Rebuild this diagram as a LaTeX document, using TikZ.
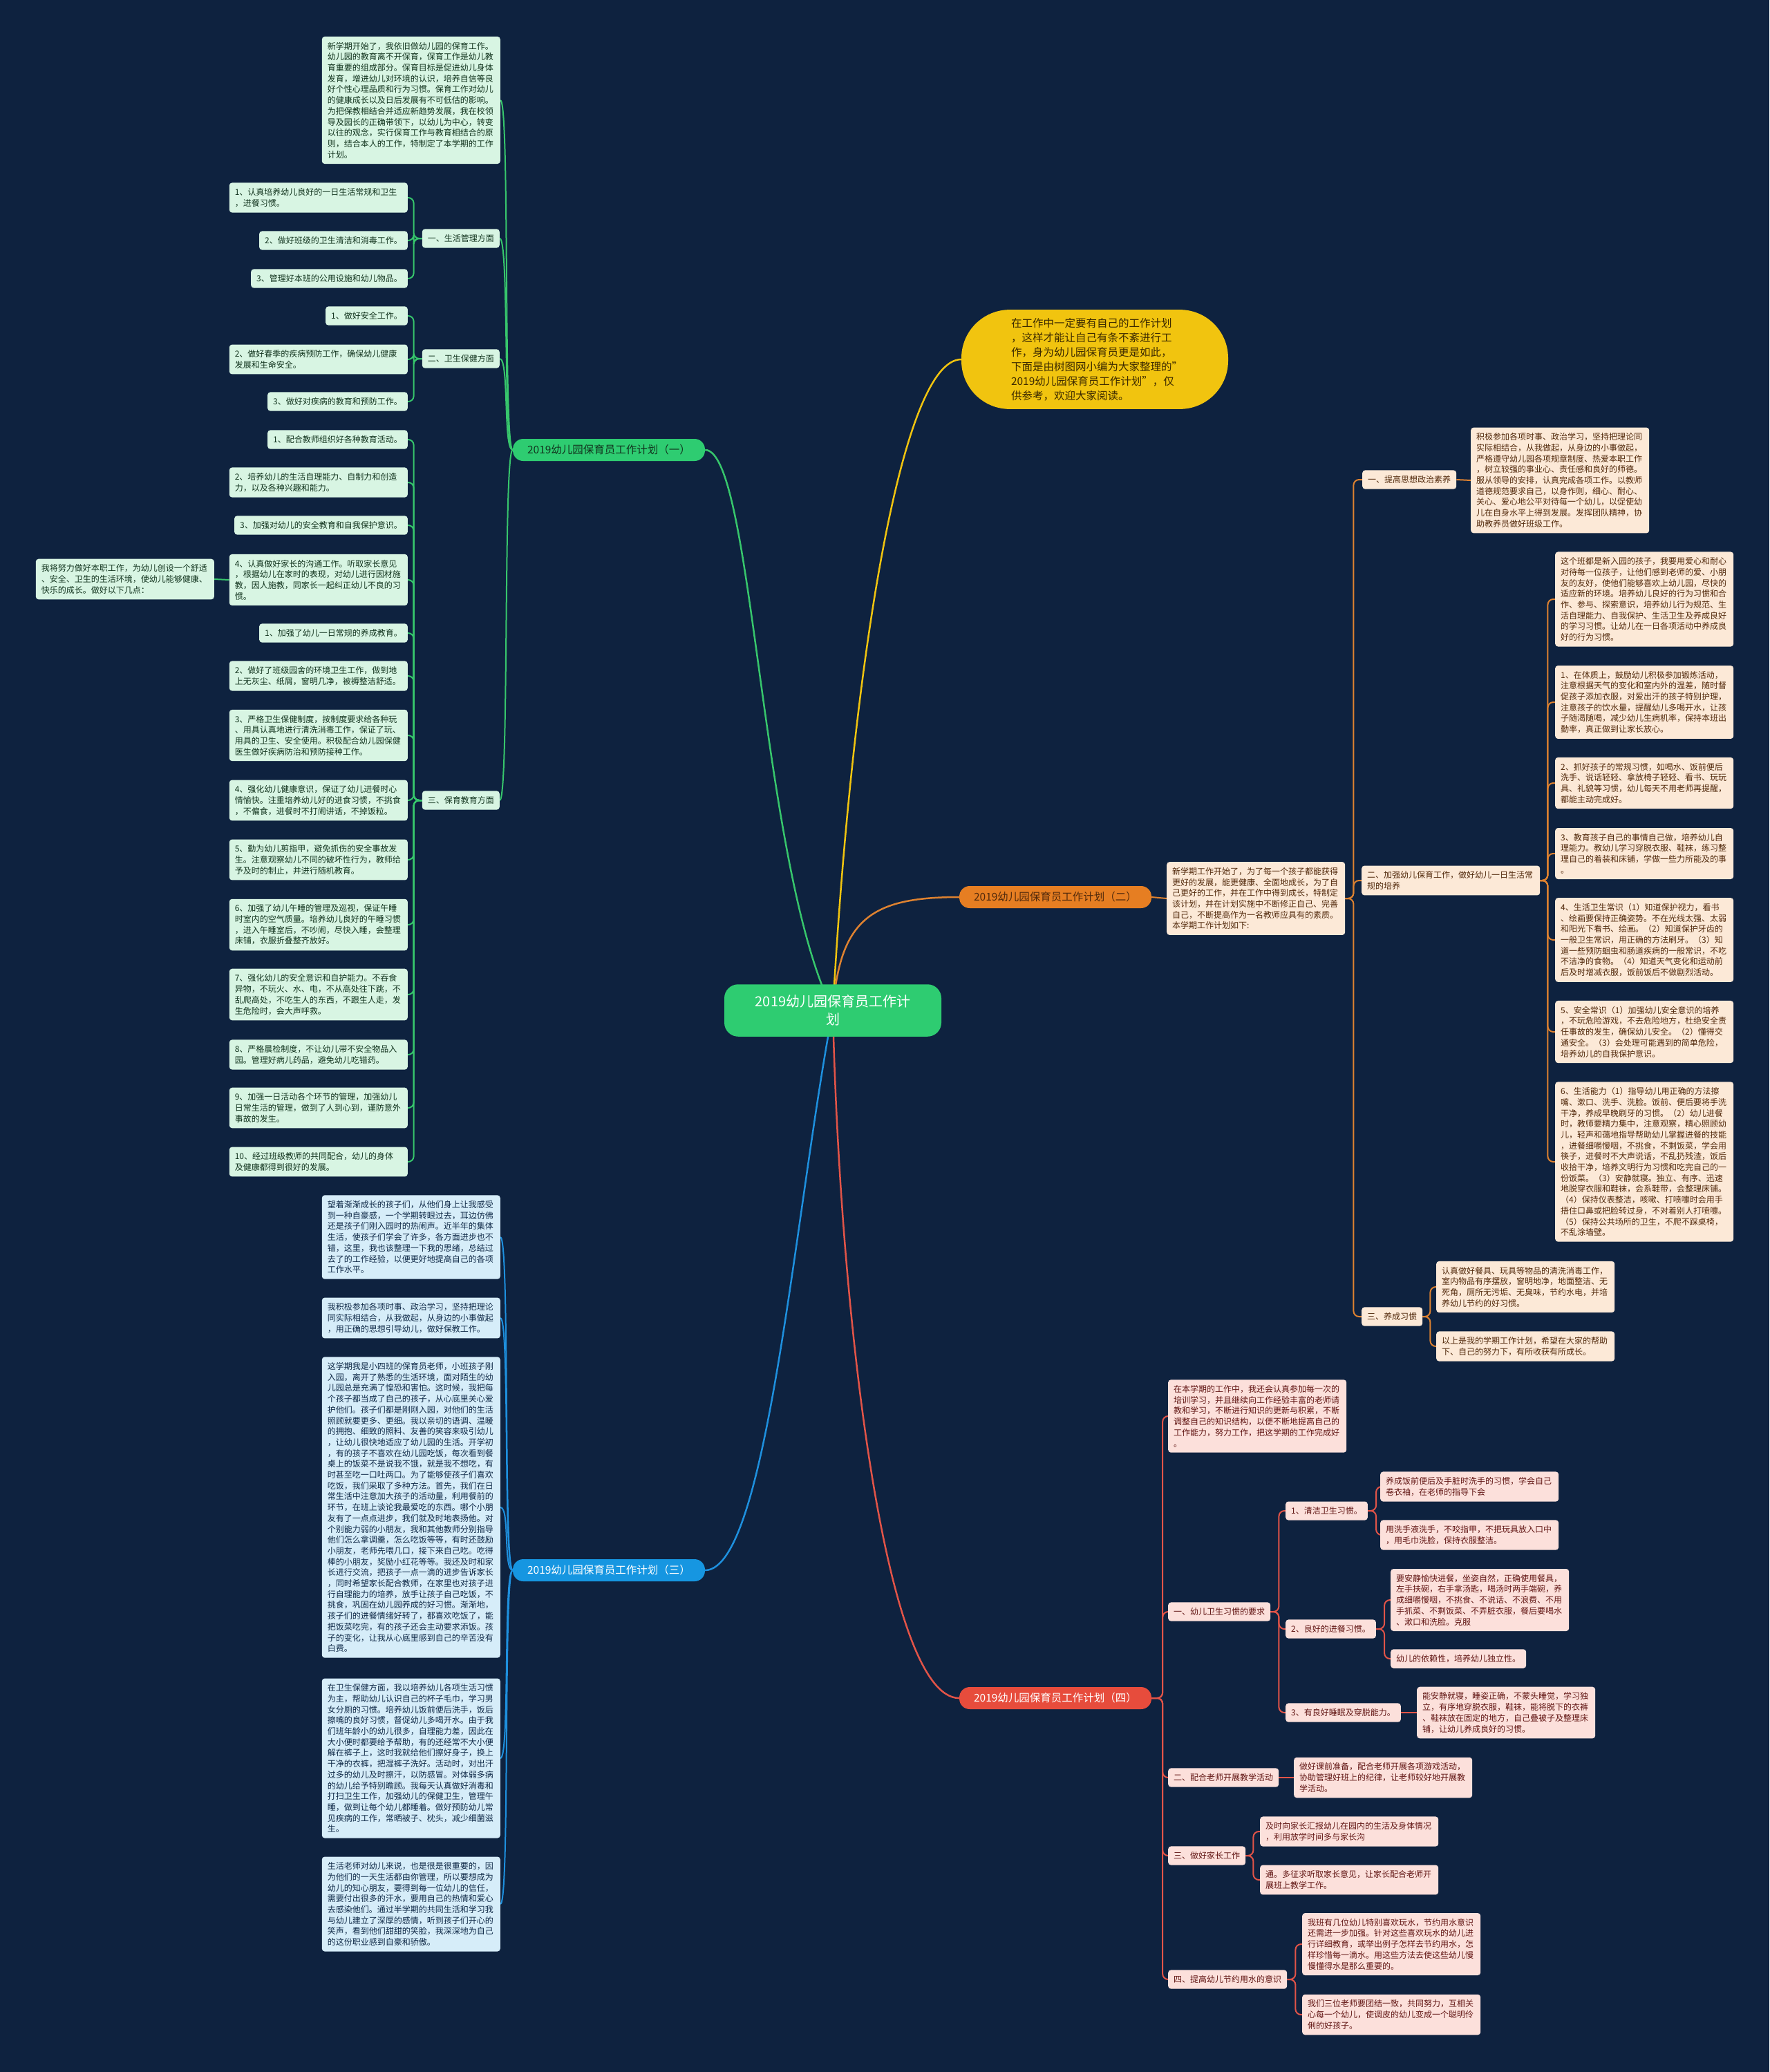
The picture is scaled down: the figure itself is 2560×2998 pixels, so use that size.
\documentclass[tikz,border=0pt]{standalone}
\usepackage{fontspec}
\setmainfont{Noto Sans CJK SC}
\usepackage{tikz}
\usetikzlibrary{backgrounds}

\definecolor{navy}{RGB}{14,34,63}
\definecolor{greenline}{RGB}{55,198,108}
\definecolor{greenfill}{RGB}{216,245,227}
\definecolor{greentext}{RGB}{18,52,30}
\definecolor{greennode}{RGB}{46,204,113}
\definecolor{orangeline}{RGB}{222,130,48}
\definecolor{orangefill}{RGB}{252,233,215}
\definecolor{orangetext}{RGB}{82,42,12}
\definecolor{orangenode}{RGB}{230,126,34}
\definecolor{blueline}{RGB}{30,144,222}
\definecolor{bluefill}{RGB}{214,237,249}
\definecolor{bluetext}{RGB}{16,42,72}
\definecolor{bluenode}{RGB}{22,150,225}
\definecolor{redline}{RGB}{226,84,72}
\definecolor{redfill}{RGB}{252,224,219}
\definecolor{redtext}{RGB}{98,22,20}
\definecolor{rednode}{RGB}{231,76,60}
\definecolor{yellownode}{RGB}{241,196,15}
\definecolor{yellowtext}{RGB}{60,42,0}

\begin{document}
\begin{tikzpicture}[x=1pt, y=-1pt,
			box/.style={
					rectangle,
					rounded corners=4pt,
					inner xsep=8pt,
					inner ysep=8pt,
					align=left,
					font=\fontsize{12}{15.7}\selectfont
				},
			wide/.style={text width=242pt},
			gbox/.style={box, fill=greenfill, text=greentext},
			obox/.style={box, fill=orangefill, text=orangetext},
			bbox/.style={box, fill=bluefill, text=bluetext},
			rbox/.style={box, fill=redfill, text=redtext},
			branch/.style={
					rectangle,
					rounded corners=15pt,
					minimum height=32pt,
					inner xsep=21pt,
					font=\fontsize{15.5}{18}\selectfont
				},
			gedge/.style={draw=greenline, line width=2pt},
			oedge/.style={draw=orangeline, line width=2pt},
			bedge/.style={draw=blueline, line width=2pt},
			redge/.style={draw=redline, line width=2pt},
			yedge/.style={draw=yellownode, line width=2.5pt}
		]
		\useasboundingbox (0,0) rectangle (2560,2998);
		% Place nodes
		\node [rectangle, rounded corners=20pt, fill=greennode, text=white, align=center, text width=262pt, inner xsep=26pt, inner ysep=15.5pt, font=\fontsize{20}{26}\selectfont] (root) at (1205,1462) {2019幼儿园保育员工作计\\划};
		\node [rectangle, rounded corners=70pt, fill=yellownode, text=yellowtext, align=left, text width=242pt, inner xsep=72pt, inner ysep=12pt, font=\fontsize{15.5}{21}\selectfont] (intro) at (1584,520) {在工作中一定要有自己的工作计划\\，这样才能让自己有条不紊进行工\\作，身为幼儿园保育员更是如此，\\下面是由树图网小编为大家整理的"\\2019幼儿园保育员工作计划"，仅\\供参考，欢迎大家阅读。};

		% branch one
		\node [branch, fill=greennode, text=greentext] (plan1) at (881,651) {2019幼儿园保育员工作计划（一）};
		\node [gbox, wide, anchor=east] (p1open) at (724,145) {新学期开始了，我依旧做幼儿园的保育工作。\\幼儿园的教育离不开保育，保育工作是幼儿教\\育重要的组成部分。保育目标是促进幼儿身体\\发育，增进幼儿对环境的认识，培养自信等良\\好个性心理品质和行为习惯。保育工作对幼儿\\的健康成长以及日后发展有不可低估的影响。\\为把保教相结合并适应新趋势发展，我在校领\\导及园长的正确带领下，以幼儿为中心，转变\\以往的观念，实行保育工作与教育相结合的原\\则，结合本人的工作，特制定了本学期的工作\\计划。};
		\node [gbox, anchor=east] (life) at (723,345) {一、生活管理方面};
		\node [gbox, wide, anchor=east] (lifea) at (590,286) {1、认真培养幼儿良好的一日生活常规和卫生\\，进餐习惯。};
		\node [gbox, anchor=east] (lifeb) at (590,348) {2、做好班级的卫生清洁和消毒工作。};
		\node [gbox, anchor=east] (lifec) at (590,403) {3、管理好本班的公用设施和幼儿物品。};
		\node [gbox, anchor=east] (health) at (723,519) {二、卫生保健方面};
		\node [gbox, anchor=east] (healtha) at (590,457) {1、做好安全工作。};
		\node [gbox, wide, anchor=east] (healthb) at (590,520) {2、做好春季的疾病预防工作，确保幼儿健康\\发展和生命安全。};
		\node [gbox, anchor=east] (healthc) at (590,581) {3、做好对疾病的教育和预防工作。};
		\node [gbox, anchor=east] (care) at (723,1158) {三、保育教育方面};
		\node [gbox, anchor=east] (care1) at (590,636) {1、配合教师组织好各种教育活动。};
		\node [gbox, wide, anchor=east] (care2) at (590,698) {2、培养幼儿的生活自理能力、自制力和创造\\力，以及各种兴趣和能力。};
		\node [gbox, anchor=east] (care3) at (590,760) {3、加强对幼儿的安全教育和自我保护意识。};
		\node [gbox, wide, anchor=east] (care4) at (590,839) {4、认真做好家长的沟通工作。听取家长意见\\，根据幼儿在家时的表现，对幼儿进行因材施\\教，因人施教，同家长一起纠正幼儿不良的习\\惯。};
		\node [gbox, wide, anchor=east] (careaim) at (310,838) {我将努力做好本职工作，为幼儿创设一个舒适\\、安全、卫生的生活环境，使幼儿能够健康、\\快乐的成长。做好以下几点：};
		\node [gbox, anchor=east] (care5) at (590,916) {1、加强了幼儿一日常规的养成教育。};
		\node [gbox, wide, anchor=east] (care6) at (590,978) {2、做好了班级园舍的环境卫生工作，做到地\\上无灰尘、纸屑，窗明几净，被褥整洁舒适。};
		\node [gbox, wide, anchor=east] (care7) at (590,1064) {3、严格卫生保健制度，按制度要求给各种玩\\、用具认真地进行清洗消毒工作，保证了玩、\\用具的卫生、安全使用。积极配合幼儿园保健\\医生做好疾病防治和预防接种工作。};
		\node [gbox, wide, anchor=east] (care8) at (590,1158) {4、强化幼儿健康意识，保证了幼儿进餐时心\\情愉快。注重培养幼儿好的进食习惯，不挑食\\，不偏食，进餐时不打闹讲话，不掉饭粒。};
		\node [gbox, wide, anchor=east] (care9) at (590,1244) {5、勤为幼儿剪指甲，避免抓伤的安全事故发\\生。注意观察幼儿不同的破坏性行为，教师给\\予及时的制止，并进行随机教育。};
		\node [gbox, wide, anchor=east] (care10) at (590,1338) {6、加强了幼儿午睡的管理及巡视，保证午睡\\时室内的空气质量。培养幼儿良好的午睡习惯\\，进入午睡室后，不吵闹，尽快入睡，会整理\\床铺，衣服折叠整齐放好。};
		\node [gbox, wide, anchor=east] (care11) at (590,1439) {7、强化幼儿的安全意识和自护能力。不吞食\\异物，不玩火、水、电，不从高处往下跳，不\\乱爬高处，不吃生人的东西，不跟生人走，发\\生危险时，会大声呼救。};
		\node [gbox, wide, anchor=east] (care12) at (590,1526) {8、严格晨检制度，不让幼儿带不安全物品入\\园。管理好病儿药品，避免幼儿吃错药。};
		\node [gbox, wide, anchor=east] (care13) at (590,1603) {9、加强一日活动各个环节的管理，加强幼儿\\日常生活的管理，做到了人到心到，谨防意外\\事故的发生。};
		\node [gbox, wide, anchor=east] (care14) at (590,1681) {10、经过班级教师的共同配合，幼儿的身体\\及健康都得到很好的发展。};

		% branch two
		\node [branch, fill=orangenode, text=orangetext] (plan2) at (1527,1298) {2019幼儿园保育员工作计划（二）};
		\node [obox, wide, anchor=west] (p2open) at (1688,1300) {新学期工作开始了，为了每一个孩子都能获得\\更好的发展，能更健康、全面地成长，为了自\\己更好的工作，并在工作中得到成长，特制定\\该计划，并在计划实施中不断修正自己、完善\\自己，不断提高作为一名教师应具有的素质。\\本学期工作计划如下:};
		\node [obox, anchor=west] (moral) at (1971,694) {一、提高思想政治素养};
		\node [obox, wide, anchor=west] (morala) at (2128,695) {积极参加各项时事、政治学习，坚持把理论同\\实际相结合，从我做起，从身边的小事做起，\\严格遵守幼儿园各项规章制度、热爱本职工作\\，树立较强的事业心、责任感和良好的师德。\\服从领导的安排，认真完成各项工作。以教师\\道德规范要求自己，以身作则，细心、耐心、\\关心、爱心地公平对待每一个幼儿，以促使幼\\儿在自身水平上得到发展。发挥团队精神，协\\助教养员做好班级工作。};
		\node [obox, wide, anchor=west] (routine) at (1970,1274) {二、加强幼儿保育工作，做好幼儿一日生活常\\规的培养};
		\node [obox, wide, anchor=west] (routine1) at (2250,867) {这个班都是新入园的孩子，我要用爱心和耐心\\对待每一位孩子，让他们感到老师的爱、小朋\\友的友好，使他们能够喜欢上幼儿园，尽快的\\适应新的环境。培养幼儿良好的行为习惯和合\\作、参与、探索意识，培养幼儿行为规范、生\\活自理能力、自我保护、生活卫生及养成良好\\的学习习惯。让幼儿在一日各项活动中养成良\\好的行为习惯。};
		\node [obox, wide, anchor=west] (routine2) at (2250,1016) {1、在体质上，鼓励幼儿积极参加锻炼活动，\\注意根据天气的变化和室内外的温差，随时督\\促孩子添加衣服，对爱出汗的孩子特别护理，\\注意孩子的饮水量，提醒幼儿多喝开水，让孩\\子随渴随喝，减少幼儿生病机率，保持本班出\\勤率，真正做到让家长放心。};
		\node [obox, wide, anchor=west] (routine3) at (2250,1133) {2、抓好孩子的常规习惯，如喝水、饭前便后\\洗手、说话轻轻、拿放椅子轻轻、看书、玩玩\\具、礼貌等习惯，幼儿每天不用老师再提醒，\\都能主动完成好。};
		\node [obox, wide, anchor=west] (routine4) at (2250,1235) {3、教育孩子自己的事情自己做，培养幼儿自\\理能力。教幼儿学习穿脱衣服、鞋袜，练习整\\理自己的着装和床铺，学做一些力所能及的事\\。};
		\node [obox, wide, anchor=west] (routine5) at (2250,1360) {4、生活卫生常识（1）知道保护视力，看书\\、绘画要保持正确姿势。不在光线太强、太弱\\和阳光下看书、绘画。（2）知道保护牙齿的\\一般卫生常识，用正确的方法刷牙。（3）知\\道一些预防蛔虫和肠道疾病的一般常识，不吃\\不洁净的食物。（4）知道天气变化和运动前\\后及时增减衣服，饭前饭后不做剧烈活动。};
		\node [obox, wide, anchor=west] (routine6) at (2250,1493) {5、安全常识（1）加强幼儿安全意识的培养\\，不玩危险游戏，不去危险地方，杜绝安全责\\任事故的发生，确保幼儿安全。（2）懂得交\\通安全。（3）会处理可能遇到的简单危险，\\培养幼儿的自我保护意识。};
		\node [obox, wide, anchor=west] (routine7) at (2250,1681) {6、生活能力（1）指导幼儿用正确的方法擦\\嘴、漱口、洗手、洗脸。饭前、便后要将手洗\\干净，养成早晚刷牙的习惯。（2）幼儿进餐\\时，教师要精力集中，注意观察，精心照顾幼\\儿，轻声和蔼地指导帮助幼儿掌握进餐的技能\\，进餐细嚼慢咽，不挑食，不剩饭菜，学会用\\筷子，进餐时不大声说话，不乱扔残渣，饭后\\收拾干净，培养文明行为习惯和吃完自己的一\\份饭菜。（3）安静就寝。独立、有序、迅速\\地脱穿衣服和鞋袜，会系鞋带，会整理床铺。\\（4）保持仪表整洁，咳嗽、打喷嚏时会用手\\捂住口鼻或把脸转过身，不对着别人打喷嚏。\\（5）保持公共场所的卫生，不爬不踩桌椅，\\不乱涂墙壁。};
		\node [obox, anchor=west] (habit) at (1970,1905) {三、养成习惯};
		\node [obox, wide, anchor=west] (habita) at (2078,1862) {认真做好餐具、玩具等物品的清洗消毒工作，\\室内物品有序摆放，窗明地净，地面整洁、无\\死角，厕所无污垢、无臭味，节约水电，并培\\养幼儿节约的好习惯。};
		\node [obox, wide, anchor=west] (habitb) at (2078,1948) {以上是我的学期工作计划，希望在大家的帮助\\下、自己的努力下，有所收获有所成长。};

		% branch three
		\node [branch, fill=bluenode, text=white] (plan3) at (881,2272) {2019幼儿园保育员工作计划（三）};
		\node [bbox, wide, anchor=east] (sum1) at (724,1790) {望着渐渐成长的孩子们，从他们身上让我感受\\到一种自豪感，一个学期转眼过去，耳边仿佛\\还是孩子们刚入园时的热闹声。近半年的集体\\生活，使孩子们学会了许多，各方面进步也不\\错，这里，我也该整理一下我的思绪，总结过\\去了的工作经验，以便更好地提高自己的各项\\工作水平。};
		\node [bbox, wide, anchor=east] (sum2) at (724,1907) {我积极参加各项时事、政治学习，坚持把理论\\同实际相结合，从我做起，从身边的小事做起\\，用正确的思想引导幼儿，做好保教工作。};
		\node [bbox, wide, anchor=east] (sum3) at (724,2181) {这学期我是小四班的保育员老师，小班孩子刚\\入园，离开了熟悉的生活环境，面对陌生的幼\\儿园总是充满了惶恐和害怕。这时候，我把每\\个孩子都当成了自己的孩子，从心底里关心爱\\护他们。孩子们都是刚刚入园，对他们的生活\\照顾就要更多、更细。我以亲切的语调、温暖\\的拥抱、细致的照料、友善的笑容来吸引幼儿\\，让幼儿很快地适应了幼儿园的生活。开学初\\，有的孩子不喜欢在幼儿园吃饭，每次看到餐\\桌上的饭菜不是说我不饿，就是我不想吃，有\\时甚至吃一口吐两口。为了能够使孩子们喜欢\\吃饭，我们采取了多种方法。首先，我们在日\\常生活中注意加大孩子的活动量，利用餐前的\\环节，在班上谈论我最爱吃的东西。哪个小朋\\友有了一点点进步，我们就及时地表扬他。对\\个别能力弱的小朋友，我和其他教师分别指导\\他们怎么拿调羹，怎么吃饭等等，有时还鼓励\\小朋友，老师先喂几口，接下来自己吃。吃得\\棒的小朋友，奖励小红花等等。我还及时和家\\长进行交流，把孩子一点一滴的进步告诉家长\\，同时希望家长配合教师，在家里也对孩子进\\行自理能力的培养，放手让孩子自己吃饭，不\\挑食，巩固在幼儿园养成的好习惯。渐渐地，\\孩子们的进餐情绪好转了，都喜欢吃饭了，能\\把饭菜吃完，有的孩子还会主动要求添饭。孩\\子的变化，让我从心底里感到自己的辛苦没有\\白费。};
		\node [bbox, wide, anchor=east] (sum4) at (724,2544) {在卫生保健方面，我以培养幼儿各项生活习惯\\为主，帮助幼儿认识自己的杯子毛巾，学习男\\女分厕的习惯。培养幼儿饭前便后洗手，饭后\\擦嘴的良好习惯，督促幼儿多喝开水。由于我\\们班年龄小的幼儿很多，自理能力差，因此在\\大小便时都要给予帮助，有的还经常不大小便\\解在裤子上，这时我就给他们擦好身子，换上\\干净的衣裤，把湿裤子洗好。活动时，对出汗\\过多的幼儿及时擦汗，以防感冒。对体弱多病\\的幼儿给予特别瞻顾。我每天认真做好消毒和\\打扫卫生工作，加强幼儿的保健卫生，管理午\\睡，做到让每个幼儿都睡着。做好预防幼儿常\\见疾病的工作，常晒被子、枕头，减少细菌滋\\生。};
		\node [bbox, wide, anchor=east] (sum5) at (724,2755) {生活老师对幼儿来说，也是很是很重要的，因\\为他们的一天生活都由你管理，所以要想成为\\幼儿的知心朋友，要得到每一位幼儿的信任，\\需要付出很多的汗水，要用自己的热情和爱心\\去感染他们。通过半学期的共同生活和学习我\\与幼儿建立了深厚的感情，听到孩子们开心的\\笑声，看到他们甜甜的笑脸，我深深地为自己\\的这份职业感到自豪和骄傲。};

		% branch four
		\node [branch, fill=rednode, text=white] (plan4) at (1527,2457) {2019幼儿园保育员工作计划（四）};
		\node [rbox, wide, anchor=west] (study) at (1690,2049) {在本学期的工作中，我还会认真参加每一次的\\培训学习，并且继续向工作经验丰富的老师请\\教和学习，不断进行知识的更新与积累，不断\\调整自己的知识结构，以便不断地提高自己的\\工作能力，努力工作，把这学期的工作完成好\\。};
		\node [rbox, anchor=west] (hyg) at (1690,2332) {一、幼儿卫生习惯的要求};
		\node [rbox, anchor=west] (clean) at (1860,2186) {1、清洁卫生习惯。};
		\node [rbox, wide, anchor=west] (cleana) at (1997,2151) {养成饭前便后及手脏时洗手的习惯，学会自己\\卷衣袖，在老师的指导下会};
		\node [rbox, wide, anchor=west] (cleanb) at (1997,2221) {用洗手液洗手，不咬指甲，不把玩具放入口中\\，用毛巾洗脸，保持衣服整洁。};
		\node [rbox, anchor=west] (meal) at (1860,2357) {2、良好的进餐习惯。};
		\node [rbox, wide, anchor=west] (meala) at (2012,2315) {要安静愉快进餐，坐姿自然，正确使用餐具，\\左手扶碗，右手拿汤匙，喝汤时两手端碗，养\\成细嚼慢咽，不挑食、不说话、不浪费、不用\\手抓菜、不剩饭菜、不弄脏衣服，餐后要喝水\\、漱口和洗脸。克服};
		\node [rbox, anchor=west] (mealb) at (2012,2400) {幼儿的依赖性，培养幼儿独立性。};
		\node [rbox, anchor=west] (sleep) at (1860,2478) {3、有良好睡眠及穿脱能力。};
		\node [rbox, wide, anchor=west] (sleepa) at (2050,2478) {能安静就寝，睡姿正确，不蒙头睡觉，学习独\\立，有序地穿脱衣服，鞋袜，能将脱下的衣裤\\、鞋袜放在固定的地方，自己叠被子及整理床\\铺，让幼儿养成良好的习惯。};
		\node [rbox, anchor=west] (teach) at (1690,2572) {二、配合老师开展教学活动};
		\node [rbox, wide, anchor=west] (teacha) at (1872,2572) {做好课前准备，配合老师开展各项游戏活动，\\协助管理好班上的纪律，让老师较好地开展教\\学活动。};
		\node [rbox, anchor=west] (parent) at (1690,2685) {三、做好家长工作};
		\node [rbox, wide, anchor=west] (parenta) at (1823,2650) {及时向家长汇报幼儿在园内的生活及身体情况\\，利用放学时间多与家长沟};
		\node [rbox, wide, anchor=west] (parentb) at (1823,2720) {通。多征求听取家长意见，让家长配合老师开\\展班上教学工作。};
		\node [rbox, anchor=west] (water) at (1690,2864) {四、提高幼儿节约用水的意识};
		\node [rbox, wide, anchor=west] (watera) at (1884,2813) {我班有几位幼儿特别喜欢玩水，节约用水意识\\还需进一步加强。针对这些喜欢玩水的幼儿进\\行详细教育，或举出例子怎样去节约用水，怎\\样珍惜每一滴水。用这些方法去使这些幼儿慢\\慢懂得水是那么重要的。};
		\node [rbox, wide, anchor=west] (waterb) at (1884,2915) {我们三位老师要团结一致，共同努力，互相关\\心每一个幼儿，使调皮的幼儿变成一个聪明伶\\俐的好孩子。};

		% Draw edges
		\begin{scope}[on background layer]
			\fill [navy] (0,0) rectangle (2560,2998);
			\draw [gedge, line width=2.5pt] (root.center) .. controls (1100,1250) and (1090,651) .. (plan1.east);
			\draw [yedge] (root.center) .. controls (1230,1000) and (1300,520) .. (intro.west);
			\draw [oedge, line width=2.5pt] (root.center) .. controls (1215,1330) and (1260,1298) .. (plan2.west);
			\draw [bedge, line width=2.5pt] (root.center) .. controls (1150,1750) and (1110,2272) .. (plan3.east);
			\draw [redge, line width=2.5pt] (root.center) .. controls (1215,1900) and (1280,2457) .. (plan4.west);

			\draw [gedge] (plan1.west) .. controls +(-14,0) and +(14,0) .. (p1open.east);
			\draw [gedge] (plan1.west) .. controls +(-14,0) and +(14,0) .. (life.east);
			\draw [gedge] (plan1.west) .. controls +(-14,0) and +(14,0) .. (health.east);
			\draw [gedge] (plan1.west) .. controls +(-14,0) and +(14,0) .. (care.east);
			\draw [gedge, rounded corners=8pt] (life.west) -- ++(-12,0) |- (lifea.east);
			\draw [gedge, rounded corners=8pt] (life.west) -- ++(-12,0) |- (lifeb.east);
			\draw [gedge, rounded corners=8pt] (life.west) -- ++(-12,0) |- (lifec.east);
			\draw [gedge, rounded corners=8pt] (health.west) -- ++(-12,0) |- (healtha.east);
			\draw [gedge, rounded corners=8pt] (health.west) -- ++(-12,0) |- (healthb.east);
			\draw [gedge, rounded corners=8pt] (health.west) -- ++(-12,0) |- (healthc.east);
			\draw [gedge, rounded corners=8pt] (care.west) -- ++(-12,0) |- (care1.east);
			\draw [gedge, rounded corners=8pt] (care.west) -- ++(-12,0) |- (care2.east);
			\draw [gedge, rounded corners=8pt] (care.west) -- ++(-12,0) |- (care3.east);
			\draw [gedge, rounded corners=8pt] (care.west) -- ++(-12,0) |- (care4.east);
			\draw [gedge, rounded corners=8pt] (care.west) -- ++(-12,0) |- (care5.east);
			\draw [gedge, rounded corners=8pt] (care.west) -- ++(-12,0) |- (care6.east);
			\draw [gedge, rounded corners=8pt] (care.west) -- ++(-12,0) |- (care7.east);
			\draw [gedge, rounded corners=8pt] (care.west) -- ++(-12,0) |- (care8.east);
			\draw [gedge, rounded corners=8pt] (care.west) -- ++(-12,0) |- (care9.east);
			\draw [gedge, rounded corners=8pt] (care.west) -- ++(-12,0) |- (care10.east);
			\draw [gedge, rounded corners=8pt] (care.west) -- ++(-12,0) |- (care11.east);
			\draw [gedge, rounded corners=8pt] (care.west) -- ++(-12,0) |- (care12.east);
			\draw [gedge, rounded corners=8pt] (care.west) -- ++(-12,0) |- (care13.east);
			\draw [gedge, rounded corners=8pt] (care.west) -- ++(-12,0) |- (care14.east);
			\draw [gedge] (care4.west) -- (careaim.east);

			\draw [oedge] (plan2.east) -- (p2open.west);
			\draw [oedge, rounded corners=8pt] (p2open.east) -- ++(12,0) |- (moral.west);
			\draw [oedge, rounded corners=8pt] (p2open.east) -- ++(12,0) |- (routine.west);
			\draw [oedge, rounded corners=8pt] (p2open.east) -- ++(12,0) |- (habit.west);
			\draw [oedge] (moral.east) -- (morala.west);
			\draw [oedge, rounded corners=8pt] (routine.east) -- ++(11,0) |- (routine1.west);
			\draw [oedge, rounded corners=8pt] (routine.east) -- ++(11,0) |- (routine2.west);
			\draw [oedge, rounded corners=8pt] (routine.east) -- ++(11,0) |- (routine3.west);
			\draw [oedge, rounded corners=8pt] (routine.east) -- ++(11,0) |- (routine4.west);
			\draw [oedge, rounded corners=8pt] (routine.east) -- ++(11,0) |- (routine5.west);
			\draw [oedge, rounded corners=8pt] (routine.east) -- ++(11,0) |- (routine6.west);
			\draw [oedge, rounded corners=8pt] (routine.east) -- ++(11,0) |- (routine7.west);
			\draw [oedge, rounded corners=8pt] (habit.east) -- ++(11,0) |- (habita.west);
			\draw [oedge, rounded corners=8pt] (habit.east) -- ++(11,0) |- (habitb.west);

			\draw [bedge] (plan3.west) .. controls +(-14,0) and +(14,0) .. (sum1.east);
			\draw [bedge] (plan3.west) .. controls +(-14,0) and +(14,0) .. (sum2.east);
			\draw [bedge] (plan3.west) .. controls +(-14,0) and +(14,0) .. (sum3.east);
			\draw [bedge] (plan3.west) .. controls +(-14,0) and +(14,0) .. (sum4.east);
			\draw [bedge] (plan3.west) .. controls +(-14,0) and +(14,0) .. (sum5.east);

			\draw [redge, rounded corners=8pt] (plan4.east) -- ++(16,0) |- (study.west);
			\draw [redge, rounded corners=8pt] (plan4.east) -- ++(16,0) |- (hyg.west);
			\draw [redge, rounded corners=8pt] (plan4.east) -- ++(16,0) |- (teach.west);
			\draw [redge, rounded corners=8pt] (plan4.east) -- ++(16,0) |- (parent.west);
			\draw [redge, rounded corners=8pt] (plan4.east) -- ++(16,0) |- (water.west);
			\draw [redge, rounded corners=8pt] (hyg.east) -- ++(12,0) |- (clean.west);
			\draw [redge, rounded corners=8pt] (hyg.east) -- ++(12,0) |- (meal.west);
			\draw [redge, rounded corners=8pt] (hyg.east) -- ++(12,0) |- (sleep.west);
			\draw [redge, rounded corners=8pt] (clean.east) -- ++(12,0) |- (cleana.west);
			\draw [redge, rounded corners=8pt] (clean.east) -- ++(12,0) |- (cleanb.west);
			\draw [redge, rounded corners=8pt] (meal.east) -- ++(12,0) |- (meala.west);
			\draw [redge, rounded corners=8pt] (meal.east) -- ++(12,0) |- (mealb.west);
			\draw [redge] (sleep.east) -- (sleepa.west);
			\draw [redge] (teach.east) -- (teacha.west);
			\draw [redge, rounded corners=8pt] (parent.east) -- ++(11,0) |- (parenta.west);
			\draw [redge, rounded corners=8pt] (parent.east) -- ++(11,0) |- (parentb.west);
			\draw [redge, rounded corners=8pt] (water.east) -- ++(12,0) |- (watera.west);
			\draw [redge, rounded corners=8pt] (water.east) -- ++(12,0) |- (waterb.west);
		\end{scope}
	\end{tikzpicture}
\end{document}
